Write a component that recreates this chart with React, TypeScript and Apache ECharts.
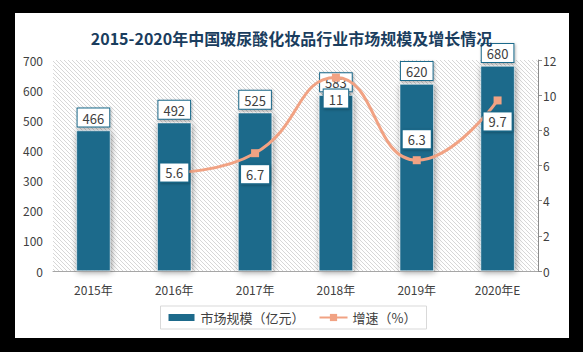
import React, { useEffect, useRef } from "react";
import * as echarts from "echarts";

const categories = ["2015年", "2016年", "2017年", "2018年", "2019年", "2020年E"];
const marketSize = [466, 492, 525, 583, 620, 680];
const growth: (number | string)[] = ["-", 5.6, 6.7, 11, 6.3, 9.7];
const growthLabelPos = ["top", "inside", "bottom", "bottom", "top", "bottom"];

const FONT = "'Noto Sans CJK SC', 'Noto Sans', sans-serif";
const BAR_COLOR = "#1d6a8b";
const LINE_COLOR = "#f1a283";

function makeHatch(): HTMLCanvasElement {
  const c = document.createElement("canvas");
  c.width = 4;
  c.height = 4;
  const ctx = c.getContext("2d")!;
  ctx.fillStyle = "#ffffff";
  ctx.fillRect(0, 0, 4, 4);
  ctx.strokeStyle = "#d7d7d7";
  ctx.lineWidth = 1;
  ctx.beginPath();
  ctx.moveTo(-1, -1);
  ctx.lineTo(5, 5);
  ctx.moveTo(-1, 3);
  ctx.lineTo(1, 5);
  ctx.moveTo(3, -1);
  ctx.lineTo(5, 1);
  ctx.stroke();
  return c;
}

export default function App() {
  const ref = useRef<HTMLDivElement>(null);
  useEffect(() => {
    if (!ref.current) return;
    const chart = echarts.init(ref.current, null, { renderer: "svg" });
    const hatch = makeHatch();
    const boxLabel = {
      color: "#404040",
      fontSize: 13,
      fontFamily: FONT,
      backgroundColor: "#ffffff",
      borderColor: BAR_COLOR,
      borderWidth: 1,
      padding: [3, 5, 2, 5],
      shadowColor: "rgba(0,0,0,0.3)",
      shadowBlur: 3,
      shadowOffsetX: 1,
      shadowOffsetY: 1,
    };
    chart.setOption({
      animation: false,
      backgroundColor: "#000000",
      graphic: [
        {
          type: "rect",
          z: -10,
          shape: { x: 15, y: 13, width: 554, height: 325 },
          style: { fill: "#ffffff" },
        },
      ],
      title: {
        text: "2015-2020年中国玻尿酸化妆品行业市场规模及增长情况",
        left: "center",
        top: 25,
        textStyle: {
          color: "#1a3d5e",
          fontSize: 16,
          fontWeight: "bold",
          fontFamily: FONT,
        },
      },
      legend: {
        left: "center",
        top: 306,
        borderColor: "#d9d9d9",
        borderWidth: 1,
        padding: [5, 10, 5, 6],
        itemGap: 14,
        itemWidth: 28,
        itemHeight: 9,
        textStyle: { color: "#404040", fontSize: 13, fontFamily: FONT },
        data: [
          { name: "市场规模（亿元）", icon: "rect" },
          { name: "增速（%）" },
        ],
      },
      grid: {
        left: 53,
        right: 45,
        top: 60,
        bottom: 81,
        show: true,
        borderWidth: 0,
        backgroundColor: { image: hatch, repeat: "repeat" },
      },
      xAxis: {
        type: "category",
        data: categories,
        axisLine: { lineStyle: { color: "#a6a6a6", width: 1 } },
        axisTick: { show: false },
        axisLabel: { color: "#404040", fontSize: 12, fontFamily: FONT, margin: 12 },
      },
      yAxis: [
        {
          type: "value",
          min: 0,
          max: 700,
          interval: 100,
          axisLine: { show: false },
          axisTick: { show: false },
          splitLine: { show: false },
          axisLabel: { color: "#404040", fontSize: 12, fontFamily: FONT, margin: 10 },
        },
        {
          type: "value",
          min: 0,
          max: 12,
          interval: 2,
          axisLine: { show: true, lineStyle: { color: "#8c8c8c" } },
          axisTick: { show: true, length: 4, lineStyle: { color: "#8c8c8c" } },
          splitLine: { show: false },
          axisLabel: { color: "#404040", fontSize: 12, fontFamily: FONT, margin: 5 },
        },
      ],
      series: [
        {
          name: "市场规模（亿元）",
          type: "bar",
          data: marketSize,
          barWidth: 34,
          itemStyle: {
            color: BAR_COLOR,
            borderColor: "#ffffff",
            borderWidth: 0.5,
            shadowColor: "rgba(0,0,0,0.45)",
            shadowBlur: 6,
            shadowOffsetX: 1,
            shadowOffsetY: 1,
          },
          label: { show: true, position: "top", distance: 4, ...boxLabel },
        },
        {
          name: "增速（%）",
          type: "line",
          yAxisIndex: 1,
          smooth: 0.5,
          data: growth.map((v, i) => ({
            value: v,
            label: { position: growthLabelPos[i], distance: 8 },
          })),
          symbol: "rect",
          symbolSize: 8,
          itemStyle: { color: LINE_COLOR },
          lineStyle: { color: LINE_COLOR, width: 3 },
          label: { show: true, ...boxLabel },
          z: 5,
        },
      ],
    });
    return () => chart.dispose();
  }, []);
  return (
    <div
      ref={ref}
      style={{ position: "absolute", left: 0, top: 0, width: 583, height: 352 }}
    />
  );
}
